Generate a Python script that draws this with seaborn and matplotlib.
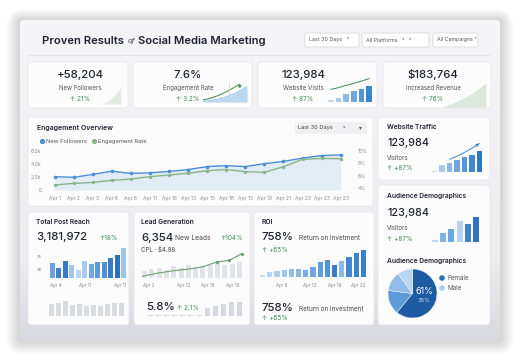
import matplotlib.pyplot as plt
import numpy as np
import seaborn as sns
from matplotlib.colors import LinearSegmentedColormap
from matplotlib.lines import Line2D
from matplotlib.patches import FancyBboxPatch

sns.set_theme(style="white")
plt.rcParams['font.family'] = ['Inter', 'DejaVu Sans']

W, H = 520, 360

# ---- data ----
kpi_values = ['+58,204', '7.6%', '123,984', '$183,764']
kpi_labels = ['New Followers', 'Engagement Rate', 'Website Visits', 'Increased Revenue']
kpi_changes = ['↑ 21%', '↑ 3.2%', '↑ 87%', '↑ 76%']
followers_spark = [0, 1, 2, 3.5, 5.5, 8]
engagement_spark = [0.3, 0.6, 1.1, 1.9, 3.0, 4.4, 6.2]
engagement_trend = [0.8, 1.5, 2.5, 3.8, 5.4, 7.2]
visits_spark = [7, 13, 23, 32, 40, 48]
visits_trend = [38, 43, 50, 56, 63, 70]
revenue_spark = [0, 1, 2.2, 3.6, 5.4, 7.5]

eng_days = ['Apr 1', 'Apr 2', 'Apr 3', 'Apr 6', 'Apr 8', 'Apr 11', 'Apr 16', 'Apr 13',
            'Apr 15', 'Apr 18', 'Apr 13', 'Apr 19', 'Apr 21', 'Apr 23', 'Apr 23', 'Apr 23']
new_followers = [2050, 1950, 2400, 2900, 2550, 2650, 2850, 3150,
                 3600, 3750, 3600, 4050, 4400, 4900, 5300, 5400]
engagement_rate = [4.5, 4.75, 4.9, 5.25, 5.45, 5.85, 6.1, 6.4,
                   6.8, 7.0, 6.65, 6.55, 7.45, 8.65, 8.8, 8.75]

traffic_bars = [4, 22, 30, 37, 46, 55, 65]
traffic_trend = [None, None, 40, 50, 62, 75, 90]
demo_bars = [7, 27, 40, 65, 54, 77]
demo_pie = [61, 16, 13, 10]

reach_bars = [45, 30, 51, 40, 23, 51, 43, 48, 48, 61, 70, 90]
reach_low = [40, 45, 50, 38, 40, 35, 38, 32, 40, 42, 42]
leads_bars = [22, 28, 30, 25, 35, 30, 38, 32, 36, 40, 45, 38, 42, 48]
leads_line = [5, 13, 19, 24, 28, 35, 48, 53, 73]
leads_low = [2, 3, 2, 3, 2, 3, 2, 20, 23, 28, 33, 33]
roi_bars = [7, 14, 17, 22, 25, 25, 21, 30, 44, 52, 37, 47, 59, 72, 82]

DARK = '#1e2330'
GREEN = '#3f8a52'
BLUE = '#4a8fd6'
LGREEN = '#86b58a'
VAL = 8.2

fig = plt.figure(figsize=(W / 100, H / 100), dpi=100)
fig.patch.set_facecolor('white')
bg = fig.add_axes([0, 0, 1, 1])
bg.axis('off')


def rbox(x0, y0, x1, y1, r=3, **kw):
    p = FancyBboxPatch((x0, y0), x1 - x0, y1 - y0,
                       boxstyle=f"round,pad=0,rounding_size={r}", **kw)
    bg.add_patch(p)
    return p


def txt(x, y, s, size=5, color=DARK, ha='left', weight='normal', on=None, **kw):
    (on or bg).text(x, y, s, fontsize=size, color=color, ha=ha, va='center', weight=weight,
                    transform=bg.transData, **kw)


def px_ax(x0, y0, x1, y1):
    a = fig.add_axes([x0 / W, 1 - y1 / H, (x1 - x0) / W, (y1 - y0) / H])
    a.set_facecolor('none')
    return a


def clean(a):
    for s in a.spines.values():
        s.set_visible(False)
    a.set_xticks([])
    a.set_yticks([])
    a.set_xlabel('')
    a.set_ylabel('')


def bars(box, values, colors, width=0.7, ymax=None):
    a = px_ax(*box)
    sns.barplot(x=list(range(len(values))), y=values, color=colors[0],
                width=width, saturation=1, ax=a)
    for p, c in zip(a.patches, colors):
        p.set_facecolor(c)
        p.set_edgecolor('none')
    a.set_xlim(-0.5, len(values) - 0.5)
    a.set_ylim(0, ymax if ymax else max(values))
    clean(a)
    return a


# ---- panel and shadow ----
for i in range(12):
    rbox(20 - i * 1.2, 20 - i * 0.9, 500 + i * 1.2, 340 + i * 1.3, r=4 + i,
         facecolor='black', edgecolor='none', alpha=0.014, zorder=0)
panel = rbox(20, 20, 500, 340, r=4, facecolor='#efeff3', edgecolor='#e2e2e8', lw=0.5, zorder=1)
cmap = LinearSegmentedColormap.from_list('p', [(0, '#f5f5f8'), (0.75, '#ededf1'), (1, '#d8d8df')])
im = bg.imshow(np.linspace(0, 1, 100).reshape(-1, 1), extent=(20, 500, 340, 20),
               cmap=cmap, aspect='auto', zorder=1)
im.set_clip_path(panel)
bg.set_xlim(0, W)
bg.set_ylim(H, 0)

# ---- header ----
txt(42, 40.5, 'Proven Results', size=8.1, weight='semibold')
txt(128, 41.5, 'of', size=5.5, style='italic', color='#444')
txt(137.5, 40.5, 'Social Media Marketing', size=8.1, weight='semibold')
for x0, x1, lab in [(305, 359, 'Last 30 Days   ˅'), (362, 429, 'All Platforms   ˅   ˅'),
                    (433, 478, 'All Campaigns ˅')]:
    rbox(x0, 33, x1, 47, r=1.5, facecolor='white', edgecolor='#d9d9de', lw=0.6, zorder=2)
    txt(x0 + 4, 40, lab, size=3.8, color='#555', zorder=3)
bg.plot([28, 490], [55, 55], color='#e0e0e5', lw=0.6, zorder=2)

# ---- cards ----
cards = [(28, 62, 128, 108), (133, 62, 252, 108), (258, 62, 377, 108), (383, 62, 491, 108),
         (28, 117, 373, 206), (378, 117, 490, 180), (378, 185, 490, 325),
         (28, 212, 129, 325), (134, 212, 250, 325), (254, 212, 374, 325)]
for c in cards:
    rbox(*c, r=3, facecolor='#fcfcfd', edgecolor='#e3e3e8', lw=0.5, zorder=2)

kpi_x = [80, 188, 303, 433]
for x, v, lab, ch in zip(kpi_x, kpi_values, kpi_labels, kpi_changes):
    txt(x, 75, v, size=VAL, ha='center', weight='medium', zorder=3)
    txt(x, 88, lab, size=4.4, ha='center', color='#555', zorder=3)
    txt(x, 99, ch, size=4.6, ha='center', color=GREEN, zorder=3)

# kpi sparklines
a = px_ax(102, 87, 121, 104)
a.fill_between(range(len(followers_spark)), followers_spark, color='#e4ebe4', lw=0)
a.set_xlim(0, len(followers_spark) - 1)
a.set_ylim(0, max(followers_spark))
clean(a)

a = px_ax(203, 82, 247, 102)
xs = range(len(engagement_spark))
a.fill_between(xs, engagement_spark, color='#bcd7f2', lw=0)
a.plot(xs, engagement_spark, color='#8bb8e8', lw=0.6)
sns.lineplot(x=list(range(len(engagement_trend))), y=engagement_trend, color=GREEN, lw=0.7, ax=a)
a.annotate('', xy=(5.6, engagement_trend[-1] + 0.4), xytext=(4.8, engagement_trend[-2] + 0.4),
           arrowprops=dict(arrowstyle='-|>', color=GREEN, lw=0.7, mutation_scale=4))
a.axvline(3.6, color='#c8d3df', lw=0.5)
a.set_xlim(0, len(engagement_spark) - 1)
a.set_ylim(0, 8)
clean(a)

a = bars((327, 78, 373, 102), visits_spark,
         sns.blend_palette(['#c6dcf3', '#3a83cf'], len(visits_spark)), width=0.72, ymax=72)
a.plot(range(len(visits_trend)), visits_trend, color=GREEN, lw=0.7)
a.annotate('', xy=(5.3, 74), xytext=(4.6, 67),
           arrowprops=dict(arrowstyle='-|>', color=GREEN, lw=0.7, mutation_scale=4))

a = px_ax(442, 83, 486, 107)
a.fill_between(range(len(revenue_spark)), revenue_spark, color='#dbe8db', lw=0)
a.set_xlim(0, len(revenue_spark) - 1)
a.set_ylim(0, max(revenue_spark))
clean(a)

# ---- engagement overview ----
txt(37, 128, 'Engagement Overview', size=5.0, weight='semibold', zorder=3)
rbox(295, 122, 367, 134, r=1.5, facecolor='#f0f0f3', edgecolor='none', zorder=3)
txt(298, 128, 'Last 30 Days', size=4.0, color='#444', zorder=4)
txt(343, 128, '˅', size=4.0, color='#555', zorder=4)
txt(359, 128, '▾', size=4, color='#555', zorder=4)

ax = px_ax(47, 151, 354, 190)
days_idx = list(range(len(eng_days)))
ax.fill_between(days_idx, new_followers, color='#dce8f4', alpha=0.8, lw=0)
sns.lineplot(x=days_idx, y=new_followers, color=BLUE, lw=1.0, marker='o',
             markersize=2.6, markeredgewidth=0, ax=ax)
ax.set_xlim(-0.4, 15.7)
ax.set_ylim(0, 6000)
ax.set_yticks([0, 2000, 4000, 6000])
ax.set_yticklabels(['0', '2.0k', '4.0k', '6.0k'])
ax.set_xticks(days_idx)
ax.set_xticklabels(eng_days)
ax.tick_params(labelsize=3.6, colors='#8a8d95', length=0, pad=4)
for s in ax.spines.values():
    s.set_visible(False)
ax.set_xlabel('')
ax.set_ylabel('')
ax2 = ax.twinx()
sns.lineplot(x=days_idx, y=engagement_rate, color=LGREEN, lw=1.0, marker='o',
             markersize=2.4, markeredgewidth=0, ax=ax2)
ax2.set_ylim(3.68, 10)
ax2.set_yticks([4, 6, 8, 10])
ax2.set_yticklabels(['4%', '6%', '8%', '10%'])
ax2.tick_params(labelsize=3.6, colors='#8a8d95', length=0, pad=3)
for s in ax2.spines.values():
    s.set_visible(False)
ax2.set_ylabel('')
handles = [Line2D([], [], color=BLUE, marker='o', ls='none', markersize=2.8),
           Line2D([], [], color=LGREEN, marker='o', ls='none', markersize=2.8)]
fig.legend(handles, ['New Followers', 'Engagement Rate'], loc='center left',
           bbox_to_anchor=(34 / W, 1 - 141.5 / H), ncol=2, frameon=False, fontsize=4.2,
           handletextpad=0.1, columnspacing=0.8, handlelength=1.0, labelcolor='#555')

# ---- website traffic ----
txt(387, 127, 'Website Traffic', size=4.8, weight='semibold', zorder=3)
txt(387, 143, '123,984', size=7.8, weight='medium', zorder=3)
txt(387, 157.5, 'Visitors', size=4.4, color='#555', zorder=3)
txt(387, 167.5, '↑ +87%', size=4.6, color=GREEN, zorder=3)
a = bars((431, 142, 483, 172), traffic_bars,
         sns.blend_palette(['#c9ddf2', '#6ea6e0', '#2f76c4'], len(traffic_bars)), width=0.72, ymax=95)
tx = [i for i, v in enumerate(traffic_trend) if v is not None]
ty = [v for v in traffic_trend if v is not None]
a.plot(tx, ty, color='#3f86d0', lw=0.7)
a.annotate('', xy=(tx[-1], ty[-1]), xytext=(tx[-2] + 0.5, (ty[-1] + ty[-2]) / 2),
           arrowprops=dict(arrowstyle='-|>', color='#3f86d0', lw=0.7, mutation_scale=4))

# ---- audience demographics ----
txt(387, 196, 'Audience Demographics', size=4.8, weight='semibold', zorder=3)
txt(387, 213, '123,984', size=7.8, weight='medium', zorder=3)
txt(387, 228, 'Visitors', size=4.4, color='#555', zorder=3)
txt(387, 239, '↑ +87%', size=4.6, color=GREEN, zorder=3)
bars((431, 216, 480, 242), demo_bars,
     ['#c0d8f1', '#7fb1e3', '#6ea6df', '#b5d2f0', '#3f83cb', '#2f74c0'], width=0.72, ymax=80)
txt(387, 261, 'Audience Demographics', size=4.8, weight='semibold', zorder=3)
pa = px_ax(388, 269, 437, 318)
pa.pie(demo_pie, colors=['#1f5ba3', '#5d9ad8', '#8fbce9', '#b9d6f2'], startangle=90,
       counterclock=False, radius=1.0, wedgeprops=dict(edgecolor='white', lw=0.3))
pa.set_xlim(-1, 1)
pa.set_ylim(-1, 1)
pa.set_aspect('equal')
txt(424, 292, '61%', size=6.5, color='white', ha='center', on=pa)
txt(424, 300, '35%', size=4.2, color='#cfe0f5', ha='center', on=pa)
bg.scatter([442, 442], [278, 288], s=9, color=['#2f6fb8', '#a9cdf0'], zorder=4)
txt(447, 278, 'Female', size=4.6, color='#555', zorder=4)
txt(447, 288, 'Male', size=4.6, color='#555', zorder=4)

# ---- total post reach ----
txt(36, 222, 'Total Post Reach', size=4.8, weight='semibold', zorder=3)
txt(36, 237, '3,181,972', size=VAL, weight='medium', zorder=3)
txt(99, 238, '↑18%', size=4.6, color=GREEN, zorder=3)
txt(37, 257, '35', size=3, color='#888', zorder=3)
txt(37, 270, '0K', size=3, color='#888', zorder=3)
reach_colors = ['#6aa3dc', '#3f82c9', '#3a7cc4', '#9fc6ec', '#b7d4f1', '#a9cbee',
                '#6fa6df', '#5b9ad9', '#4e90d4', '#3a7cc4', '#2f70b9', '#9fc4ea']
bars((49, 248, 127, 278), reach_bars, reach_colors, width=0.72, ymax=90)
for x, lab in [(56, 'Apr 4'), (85, 'Apr 11'), (120, 'Apr 11')]:
    txt(x, 286, lab, size=3.2, color='#888', ha='center', zorder=3)
bars((48, 301, 125, 316), reach_low, ['#d9dbe1'] * len(reach_low), width=0.6, ymax=50)

# ---- lead generation ----
txt(141, 222, 'Lead Generation', size=4.8, weight='semibold', zorder=3)
txt(141, 238, '6,354', size=VAL, weight='medium', zorder=3)
txt(175, 238.5, 'New Leads', size=4.8, color='#444', zorder=3)
txt(220, 238.5, '↑104%', size=4.6, color=GREEN, zorder=3)
txt(141, 249, 'CPL · $4.98', size=4.4, color='#444', zorder=3)
bars((141, 258, 243, 278), leads_bars, ['#e1e3e8'] * len(leads_bars), width=0.7, ymax=60)
la = px_ax(141, 252, 243, 278)
sns.lineplot(x=list(range(len(leads_line))), y=leads_line, color='#6f9f74', lw=0.8,
             marker='o', markersize=2.4, markeredgewidth=0, markevery=[6, 7, 8], ax=la)
la.set_xlim(-0.1, len(leads_line) - 0.9)
la.set_ylim(0, 78)
clean(la)
for x, lab in [(149, 'Apr 2'), (184, 'Apr 12'), (208, 'Apr 18'), (233, 'Apr 19')]:
    txt(x, 286, lab, size=3.2, color='#888', ha='center', zorder=3)
la2 = bars((146, 299, 244, 316), leads_low, ['#d5d8de'] * len(leads_low), width=0.6, ymax=40)
txt(146, 307, '5.8%', size=8.2, weight='medium', on=la2)
txt(177, 308.5, '↑ 2.1%', size=4.6, color=GREEN, on=la2)

# ---- ROI ----
txt(262, 222, 'ROI', size=4.8, weight='semibold', zorder=3)
txt(262, 237, '758%', size=VAL, weight='medium', zorder=3)
txt(299, 238, 'Return on Invetment', size=4.6, color='#444', zorder=3)
txt(262, 250, '↑ +65%', size=4.6, color=GREEN, zorder=3)
roi_colors = sns.blend_palette(['#c6dcf3', '#8ab9e8', '#4d91d6', '#3a80cb'], len(roi_bars))
roi_colors[10] = '#3a7cc4'
roi_colors[11] = '#8dbbe9'
bars((259, 249, 367, 277), roi_bars, roi_colors, width=0.72, ymax=84)
for x, lab in [(282, 'Apr 6'), (310, 'Apr 13'), (335, 'Apr 19'), (358, 'Apr 22')]:
    txt(x, 285, lab, size=3.2, color='#888', ha='center', zorder=3)
txt(262, 308, '758%', size=VAL, weight='medium', zorder=3)
txt(299, 309, 'Return on Investment', size=4.6, color='#444', zorder=3)
txt(262, 318.5, '↑ +65%', size=4.6, color=GREEN, zorder=3)

fig.savefig('out.png', dpi=100, facecolor='white')
